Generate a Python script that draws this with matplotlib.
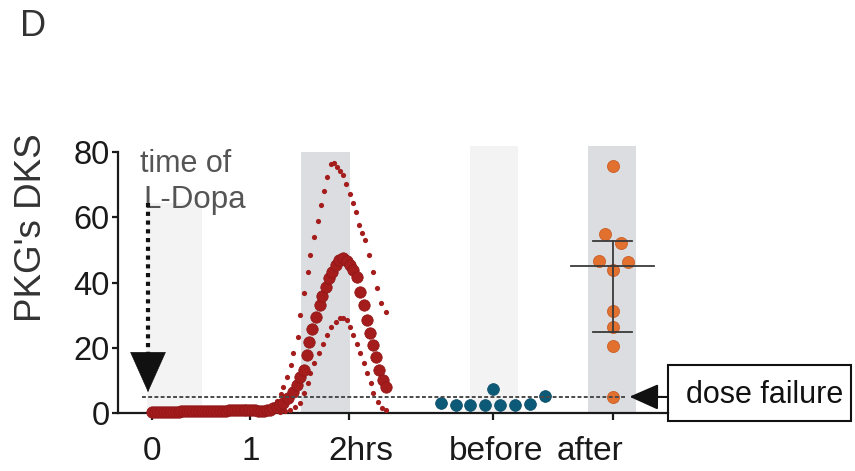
import numpy as np
import matplotlib
matplotlib.use("Agg")
import matplotlib.pyplot as plt
from matplotlib.patches import Rectangle

plt.rcParams['font.family'] = ['Liberation Sans', 'DejaVu Sans']

# ---- time course after L-Dopa (hours, DKS) ----
mean_t = [0.00, 0.03, 0.06, 0.09, 0.12, 0.15, 0.18, 0.21, 0.24, 0.27, 0.30, 0.33,
          0.36, 0.39, 0.42, 0.45, 0.48, 0.51, 0.54, 0.57, 0.60, 0.63, 0.66, 0.69,
          0.72, 0.75, 0.78, 0.81, 0.84, 0.87, 0.90, 0.93, 0.96, 0.99, 1.02, 1.05,
          1.08, 1.11, 1.14, 1.17, 1.20, 1.23,
          1.27, 1.30, 1.33, 1.38, 1.43, 1.47, 1.50, 1.54, 1.57, 1.60, 1.63, 1.67,
          1.71, 1.73, 1.77, 1.80, 1.83, 1.87, 1.90, 1.94, 1.98, 2.01, 2.04, 2.08,
          2.11, 2.15, 2.18, 2.21, 2.25, 2.28, 2.31, 2.35, 2.38]
mean_v = [0.3, 0.3, 0.3, 0.3, 0.4, 0.4, 0.4, 0.4, 0.4, 0.4, 0.5, 0.5,
          0.5, 0.5, 0.5, 0.5, 0.5, 0.5, 0.5, 0.5, 0.6, 0.6, 0.6, 0.6,
          0.7, 0.7, 0.8, 0.8, 0.9, 0.9, 0.9, 0.9, 0.9, 0.8, 0.8, 0.8,
          0.7, 0.7, 0.7, 0.8, 1.0, 1.4,
          1.9, 2.4, 3.0, 4.5, 6.5, 8.6, 11.1, 13.2, 17.8, 21.9, 25.7, 29.5,
          33.1, 35.9, 38.7, 41.3, 43.3, 45.4, 46.9, 47.4, 46.7, 45.4, 43.8, 41.8,
          37.2, 33.1, 28.5, 24.4, 20.8, 17.3, 13.2, 10.1, 8.1]

upper_t = [0.00, 0.10, 0.20, 0.30, 0.40, 0.50, 0.60, 0.70, 0.80, 0.90, 1.00, 1.08,
           1.15, 1.19, 1.23, 1.27, 1.31, 1.33, 1.37, 1.41, 1.43, 1.48, 1.50, 1.54,
           1.58, 1.61, 1.65, 1.69, 1.72, 1.75, 1.78, 1.82, 1.85, 1.88, 1.91, 1.94,
           1.97, 2.01, 2.04, 2.07, 2.10, 2.13, 2.16, 2.20, 2.25, 2.29, 2.33, 2.38]
upper_v = [0.4, 0.4, 0.5, 0.5, 0.6, 0.6, 0.7, 0.8, 0.9, 1.0, 0.9, 0.6,
           0.5, 1.2, 2.4, 3.8, 5.8, 8.1, 11.1, 14.7, 18.3, 23.4, 30.0, 36.7,
           43.1, 48.6, 53.9, 58.9, 63.8, 68.1, 72.4, 76.5, 76.8, 75.3, 74.2, 72.9,
           70.1, 67.0, 64.3, 61.7, 57.6, 55.2, 53.0, 48.4, 43.3, 38.2, 33.6, 31.0]

lower_t = [1.30, 1.35, 1.40, 1.45, 1.50, 1.54, 1.58, 1.61, 1.65, 1.70, 1.74, 1.78,
           1.82, 1.87, 1.91, 1.94, 1.98, 2.01, 2.04, 2.08, 2.11, 2.15, 2.18, 2.22,
           2.25, 2.30, 2.34, 2.38]
lower_v = [0.2, 0.5, 1.0, 1.8, 3.0, 6.0, 9.1, 12.2, 15.2, 18.3, 21.1, 23.9,
           26.5, 28.0, 29.0, 29.2, 28.5, 26.5, 23.9, 21.1, 18.3, 15.4, 12.2, 9.1,
           6.0, 3.5, 1.4, 0.9]

# ---- individual scores before / after ----
before_v = [3.0, 2.5, 2.5, 2.5, 2.5, 2.5, 2.7, 5.2, 7.4]
after_v = [75.8, 54.8, 52.0, 46.7, 46.4, 43.8, 31.3, 26.3, 20.6, 5.0]

dose_failure_level = 5.0

tick_labels = ["0", "1", "2hrs", "before", "after"]

# ---- layout ----
before_x = 3.46
after_x = 4.68
tick_pos = [0, 1, 2, before_x, after_x]
label_pos = [0.0, 1.0, 2.12, 3.50, 4.45]
before_dx = [-0.52, -0.375, -0.225, -0.075, 0.075, 0.23, 0.375, 0.53, 0.0]
after_dx = [0.0, -0.074, 0.088, -0.142, 0.152, 0.0, 0.0, 0.0, 0.0, 0.0]

red = '#a41c1c'
red_edge = '#8e1616'
blue = '#0d5a78'
orange = '#e2702f'
orange_edge = '#c4561e'
light_band = '#f3f3f3'
dark_band = '#dcdde0'
ink = '#1a1a1a'

fig = plt.figure(figsize=(8.55, 4.71), dpi=100)
ax = fig.add_axes([0.138, 0.1231, 0.643, 0.5817])
ax.set_xlim(-0.345, 5.239)
ax.set_ylim(0, 84)

# shaded windows
ax.axvspan(-0.05, 0.51, ymin=0, ymax=64.5 / 84, color=light_band, zorder=0, lw=0)
ax.axvspan(1.51, 2.01, ymin=0, ymax=80 / 84, color=dark_band, zorder=0, lw=0)
ax.axvspan(3.23, 3.72, ymin=0, ymax=82 / 84, color=light_band, zorder=0, lw=0)
ax.axvspan(4.43, 4.92, ymin=0, ymax=82 / 84, color=dark_band, zorder=0, lw=0)

# time course
ax.scatter(upper_t, upper_v, s=14, color=red, lw=0, zorder=3, clip_on=False)
ax.scatter(lower_t, lower_v, s=14, color=red, lw=0, zorder=3, clip_on=False)
ax.scatter(mean_t, mean_v, s=68, color=red, edgecolor=red_edge, lw=0.5,
           zorder=3, clip_on=False)

# individual points
bx = [before_x + d for d in before_dx]
ax.scatter(bx, before_v, s=72, color=blue, edgecolor='#0a4a63', lw=0.5,
           zorder=3, clip_on=False)
axx = [after_x + d for d in after_dx]
ax.scatter(axx, after_v, s=76, color=orange, edgecolor=orange_edge, lw=0.5,
           zorder=3, clip_on=False)

# median and interquartile range of the "after" group
q1, med, q3 = np.percentile(after_v, [25, 50, 75], method='weibull')
ax.plot([after_x - 0.42, after_x + 0.42], [med, med], color='#3a3a3a', lw=1.3, zorder=5)
ax.plot([after_x - 0.2, after_x + 0.2], [q1, q1], color='#3a3a3a', lw=1.3, zorder=5)
ax.plot([after_x - 0.2, after_x + 0.2], [q3, q3], color='#3a3a3a', lw=1.3, zorder=5)
ax.plot([after_x, after_x], [q1, q3], color='#3a3a3a', lw=1.3, zorder=5)

# dose-failure threshold
ax.plot([-0.10, 4.80], [dose_failure_level, dose_failure_level], color='#4a4a4a',
        lw=1.4, ls=(0, (2.0, 1.2)), zorder=4)

# L-Dopa administration marker
ax.plot([-0.04, -0.04], [64.5, 18.0], color='#111111', lw=3.0,
        ls=(0, (1, 1.1)), dash_capstyle='butt', zorder=4)
ax.annotate('', xy=(-0.04, 6.4), xytext=(-0.04, 18.6),
            arrowprops=dict(arrowstyle='-|>,head_length=2.8,head_width=1.25',
                            color='#111111', lw=0.5, shrinkA=0, shrinkB=0),
            zorder=4)
ax.text(-0.12, 73.9, 'time of', fontsize=22, color='#555555', ha='left', va='baseline')
ax.text(-0.09, 62.8, 'L-Dopa', fontsize=22.5, color='#555555', ha='left', va='baseline')

# dose failure callout
box_left, box_bottom, box_w, box_h = 0.781, 0.106, 0.214, 0.119
fig.add_artist(Rectangle((box_left, box_bottom), box_w, box_h, transform=fig.transFigure,
                         fill=False, edgecolor='#111111', lw=1.5))
fig.text(686 / 855, box_bottom + box_h / 2 - 0.004, 'dose failure',
         fontsize=22, color='#111111', ha='left', va='center')
ax.annotate('', xy=(4.85, dose_failure_level), xycoords='data',
            xytext=(box_left, 1 - 397 / 471), textcoords='figure fraction',
            arrowprops=dict(arrowstyle='-|>,head_length=1.8,head_width=0.8',
                            color='#111111', lw=1.5, shrinkA=0, shrinkB=0),
            annotation_clip=False)

# axes styling
for side in ('top', 'right'):
    ax.spines[side].set_visible(False)
ax.spines['left'].set_bounds(0, 80)
for side in ('left', 'bottom'):
    ax.spines[side].set_linewidth(1.6)
    ax.spines[side].set_color(ink)
ax.set_yticks([0, 20, 40, 60, 80])
ax.set_xticks(tick_pos)
ax.tick_params(axis='y', length=4, width=1.6, pad=2, labelsize=23.5, colors=ink)
ax.tick_params(axis='x', length=5, width=1.6, labelbottom=False, colors=ink)
for xp, lab in zip(label_pos, tick_labels):
    ax.text(xp, -0.085, lab, transform=ax.get_xaxis_transform(), fontsize=24,
            color=ink, ha='center', va='top')

fig.text(31.5 / 855, 1 - 228 / 471, "PKG's DKS", rotation=90, fontsize=26.5,
         color='#333333', ha='center', va='center')
fig.text(20 / 855, 1 - 26 / 471, 'D', fontsize=26, color='#333333', ha='left', va='center')

fig.savefig('out.png', dpi=100)
